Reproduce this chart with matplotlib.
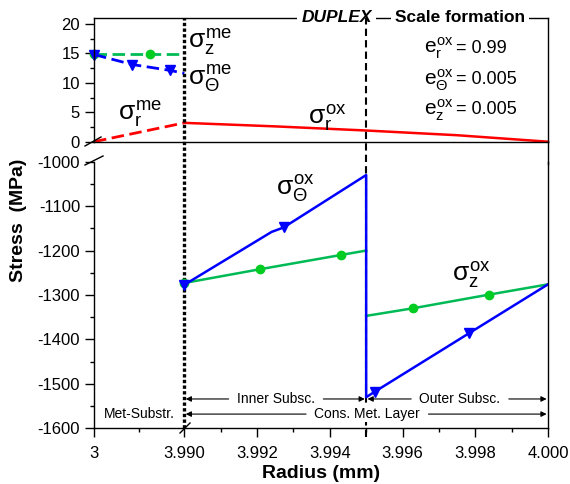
import numpy as np
import matplotlib
matplotlib.use('Agg')
import matplotlib.pyplot as plt
from matplotlib.lines import Line2D

plt.rcParams['font.family'] = ['Liberation Sans', 'DejaVu Sans']
plt.rcParams['mathtext.fontset'] = 'custom'
plt.rcParams['mathtext.rm'] = 'Liberation Sans'
plt.rcParams['mathtext.it'] = 'Liberation Sans'
plt.rcParams['mathtext.bf'] = 'Liberation Sans:bold'
plt.rcParams['axes.unicode_minus'] = False

# --- metal substrate (top panel, MPa) ---
r_me_z = [3.0, 3.614, 3.990]
s_me_z = [14.9, 14.9, 14.9]
r_me_t = [3.0, 3.42, 3.836, 3.990]
s_me_t = [14.8, 13.1, 12.1, 11.6]
r_me_r = [3.0, 3.990]
s_me_r = [0.0, 3.2]
r_ox_r = [3.990, 3.9925, 3.995, 3.9975, 4.000]
s_ox_r = [3.2, 2.6, 1.9, 1.1, 0.0]

# --- oxide scale (bottom panel, MPa) ---
r_ox_z_in = [3.990, 3.99208, 3.9943, 3.995]
s_ox_z_in = [-1273, -1242, -1210, -1200]
r_ox_z_out = [3.995, 3.99628, 3.99839, 4.000]
s_ox_z_out = [-1347, -1330, -1299, -1276]
r_ox_t = [3.990, 3.9924, 3.99273, 3.995, 3.995, 3.99523, 3.99783, 4.000]
s_ox_t = [-1277, -1158, -1148, -1030, -1530, -1518, -1386, -1276]

xticks = [3.0, 3.990, 3.992, 3.994, 3.996, 3.998, 4.000]
xticklabels = ['3', '3.990', '3.992', '3.994', '3.996', '3.998', '4.000']
xminor = [3.495, 3.991, 3.993, 3.995, 3.997, 3.999]

# broken radius axis: 3 -> 3.990 squeezed into a short stretch
L = 0.002484
def fwd(r):
    r = np.asarray(r, float)
    return np.where(r <= 3.99, (r - 3.0) / 0.99 * L, L + (r - 3.99))
def inv(p):
    p = np.asarray(p, float)
    return np.where(p <= L, 3.0 + p / L * 0.99, 3.99 + (p - L))

W, H = 570, 484
fig = plt.figure(figsize=(W/100, H/100), dpi=100)
ax_t = fig.add_axes([94/W, 1-141.7/H, 454/W, 123.7/H])
ax_b = fig.add_axes([94/W, 1-428.3/H, 454/W, 266.6/H])

green = '#00bb55'
gmark = '#00cc22'
blue = '#0000ff'
red = '#ff0000'

for ax in (ax_t, ax_b):
    ax.set_xscale('function', functions=(fwd, inv))
    ax.set_xlim(3.0, 4.0)
    for s in ax.spines.values():
        s.set_linewidth(1.0)
    ax.tick_params(which='major', direction='out', length=6.5, width=1, labelsize=12)
    ax.tick_params(which='minor', direction='out', length=3, width=1)
ax_b.tick_params(axis='x', which='major', pad=6.5)

# top panel
ax_t.plot(r_me_z, s_me_z, color=green, lw=2, dashes=(4.5, 2), marker='o',
          ms=6, mfc=gmark, mec=gmark, markevery=[0, 1], clip_on=False)
ax_t.plot(r_me_t, s_me_t, color=blue, lw=2, dashes=(4.5, 2), marker='v',
          ms=7.5, mfc=blue, mec=blue, markevery=[0, 1, 2], clip_on=False)
ax_t.plot(r_me_r, s_me_r, color=red, lw=2, dashes=(4.5, 2), clip_on=False)
ax_t.plot(r_ox_r, s_ox_r, color=red, lw=1.8, clip_on=False)
ax_t.set_ylim(0, 21)
ax_t.set_yticks([0, 5, 10, 15, 20])
ax_t.set_yticks([2.5, 7.5, 12.5, 17.5], minor=True)
ax_t.set_xticks([])
ax_t.set_xticks([], minor=True)

sig = 19
ax_t.text(3.9901, 17.0, r'$\sigma_{z}^{me}$', fontsize=sig, ha='left', va='center')
ax_t.text(3.9901, 10.7, r'$\sigma_{\Theta}^{me}$', fontsize=sig, ha='left', va='center')
ax_t.text(3.266, 4.8, r'$\sigma_{r}^{me}$', fontsize=sig, ha='left', va='center')
ax_t.text(3.9934, 4.1, r'$\sigma_{r}^{ox}$', fontsize=sig, ha='left', va='center')

e_rows = [15.8, 10.5, 5.4]
e_names = [r'$e_{r}^{ox}$', r'$e_{\Theta}^{ox}$', r'$e_{z}^{ox}$']
e_vals = ['= 0.99', '= 0.005', '= 0.005']
for y, nm, v in zip(e_rows, e_names, e_vals):
    ax_t.text(3.9966, y, nm, fontsize=15, ha='left', va='center')
    ax_t.text(3.99746, y, v, fontsize=13, ha='left', va='center')

tx = ax_t.get_xaxis_transform()
ax_t.text(3.99419, 1.0, 'DUPLEX', transform=tx, fontsize=12.5, fontweight='bold',
          fontstyle='italic', ha='center', va='center',
          bbox=dict(fc='white', ec='none', pad=3))
ax_t.text(3.99758, 1.0, 'Scale formation', transform=tx, fontsize=12.5,
          fontweight='bold', ha='center', va='center',
          bbox=dict(fc='white', ec='none', pad=3))

# bottom panel
ax_b.plot(r_ox_z_in, s_ox_z_in, color=green, lw=1.8, marker='o', ms=6,
          mfc=gmark, mec=gmark, markevery=[0, 1, 2])
ax_b.plot(r_ox_z_out, s_ox_z_out, color=green, lw=1.8, marker='o', ms=6,
          mfc=gmark, mec=gmark, markevery=[1, 2])
ax_b.plot(r_ox_t, s_ox_t, color=blue, lw=1.8, marker='v', ms=7.5,
          mfc=blue, mec=blue, markevery=[0, 2, 5, 6])
ax_b.set_ylim(-1600, -1000)
ax_b.set_yticks(np.arange(-1600, -999, 100))
ax_b.set_yticks(np.arange(-1550, -1000, 100), minor=True)
ax_b.set_xticks(xticks, xticklabels)
ax_b.set_xticks(xminor, minor=True)
ax_b.spines['top'].set_visible(False)

ax_b.text(3.99252, -1061, r'$\sigma_{\Theta}^{ox}$', fontsize=sig, ha='left', va='center')
ax_b.text(3.99736, -1253, r'$\sigma_{z}^{ox}$', fontsize=sig, ha='left', va='center')

def span(txt, xc, y, x0, x1):
    kw = dict(arrowstyle='-|>', color='k', lw=0.8, mutation_scale=8,
              shrinkA=5, shrinkB=1)
    ax_b.annotate(txt, xy=(x0, y), xytext=(xc, y), ha='center', va='center',
                  fontsize=10, arrowprops=kw, zorder=4,
                  bbox=dict(fc='white', ec='none', pad=1))
    ax_b.annotate(txt, xy=(x1, y), xytext=(xc, y), ha='center', va='center',
                  fontsize=10, arrowprops=kw, zorder=4,
                  bbox=dict(fc='white', ec='none', pad=1))

span('Inner Subsc.', 3.99252, -1534, 3.990, 3.995)
span('Outer Subsc.', 3.99758, -1534, 3.995, 4.000)
span('Cons. Met. Layer', 3.99503, -1568, 3.990, 4.000)
ax_b.text(3.493, -1568, 'Met-Substr.', fontsize=10, ha='center', va='center')

# boundary lines running through both panels
pb = ax_b.get_position()
pt = ax_t.get_position()
ymax = (pt.y1 - pb.y0) / pb.height
ygap = (pt.y0 - pb.y0) / pb.height
ax_b.axvline(3.990, ymin=0, ymax=ymax, color='k', lw=2.4,
             linestyle=(0, (1, 0.7)), clip_on=False, zorder=1.5)
ax_b.axvline(3.995, ymin=-0.034, ymax=ymax, color='k', lw=1.5,
             linestyle=(0, (3.5, 2)), clip_on=False, zorder=1.5)
ax_b.axvline(4.000, ymin=0.99, ymax=ygap, color='k', lw=1.0, clip_on=False)

# break marks
def brk(x0, y0, x1, y1):
    fig.add_artist(Line2D([x0/W, x1/W], [1-y0/H, 1-y1/H], color='k', lw=1))
brk(85, 146, 101, 137)
brk(85, 165, 103, 156)
brk(180, 433, 190, 423)

fig.text(0.032, 0.545, 'Stress  (MPa)', rotation=90, fontsize=14,
         fontweight='bold', ha='center', va='center')
fig.text(321/W, 1-473/H, 'Radius (mm)', fontsize=14, fontweight='bold',
         ha='center', va='center')

fig.savefig('out.png', dpi=100)
